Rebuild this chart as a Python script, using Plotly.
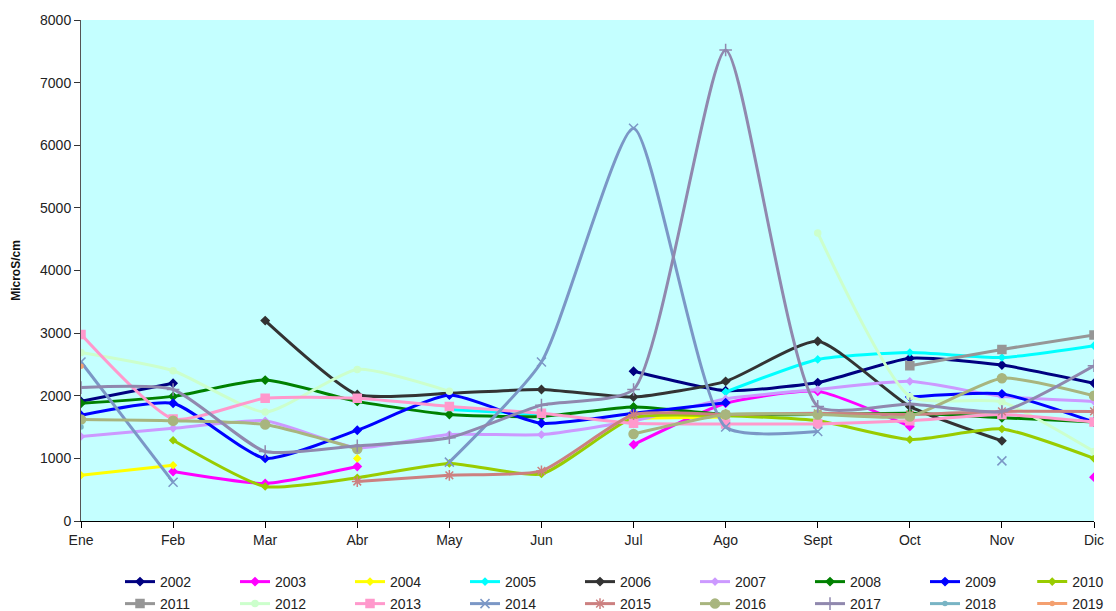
import plotly.graph_objects as go

months = ["Ene", "Feb", "Mar", "Abr", "May", "Jun", "Jul", "Ago", "Sept", "Oct", "Nov", "Dic"]
N = None

y2002 = [1910, 2200, N, N, N, N, 2390, 2080, 2210, 2600, 2490, 2200]
y2003 = [N, 790, 600, 870, N, N, 1220, 1880, 2070, 1510, N, 700]
y2004 = [730, 890, N, 1000, N, N, 1640, 1660, N, N, N, N]
y2005 = [N, N, N, N, 1780, 1700, N, 2060, 2580, 2690, 2610, 2800]
y2006 = [N, N, 3200, 2020, 2040, 2100, 1980, 2230, 2870, 1830, 1280, N]
y2007 = [1350, 1480, 1600, 1170, 1380, 1380, 1600, 1950, 2100, 2230, 1990, 1910]
y2008 = [1880, 1990, 2250, 1910, 1700, 1670, 1820, 1700, 1700, 1720, 1650, 1580]
y2009 = [1690, 1880, 1000, 1450, 2010, 1560, 1720, 1890, N, 1980, 2030, 1580]
y2010 = [N, 1290, 550, 690, 920, 750, 1650, 1680, 1600, 1300, 1470, 1000]
y2011 = [N, N, N, N, N, N, N, N, N, 2480, 2740, 2970]
y2012 = [2690, 2400, 1740, 2420, 2070, N, N, N, 4600, 1990, 1900, 1110]
y2013 = [2980, 1630, 1960, 1960, 1830, 1720, 1560, 1550, 1550, 1600, 1700, 1580]
y2014 = [2540, 620, N, N, 940, 2540, 6270, 1500, 1430, N, 960, N]
y2015 = [N, N, N, 630, 730, 800, 1700, 1700, 1720, 1700, 1750, 1750]
y2016 = [1620, 1600, 1540, 1150, N, N, 1390, 1700, 1700, 1670, 2280, 2000]
y2017 = [2130, 2100, 1110, 1200, 1330, 1850, 2100, 7520, 1830, 1870, 1750, 2480]
y2018 = [1500, N, N, N, N, N, N, N, N, N, N, N]
y2019 = [2470, N, N, N, N, N, N, N, N, N, N, N]

series = [
    ("2002", y2002, "#000080", "diamond", 6),
    ("2003", y2003, "#FF00FF", "diamond", 6),
    ("2004", y2004, "#FFFF00", "diamond", 5),
    ("2005", y2005, "#00FFFF", "diamond", 5),
    ("2006", y2006, "#333333", "diamond", 6),
    ("2007", y2007, "#CC99FF", "diamond", 5),
    ("2008", y2008, "#008000", "diamond", 6),
    ("2009", y2009, "#0000FF", "diamond", 6),
    ("2010", y2010, "#99CC00", "diamond", 5),
    ("2011", y2011, "#969696", "square", 8),
    ("2012", y2012, "#CCFFCC", "circle", 6),
    ("2013", y2013, "#FF99CC", "square", 8),
    ("2014", y2014, "#7B97C6", "x-thin-open", 9),
    ("2015", y2015, "#CC8080", "asterisk-open", 9),
    ("2016", y2016, "#A8B57E", "circle", 9),
    ("2017", y2017, "#9088AE", "cross-thin-open", 9),
    ("2018", y2018, "#78B4C4", "circle", 4),
    ("2019", y2019, "#F4A070", "circle", 4),
]

# legend routing: 9 entries per row; last entry of each row in its own legend
def legend_for(i):
    row, col = divmod(i, 9)
    if col < 8:
        return "legend" if row == 0 else "legend2"
    return "legend3" if row == 0 else "legend4"

x = list(range(len(months)))
fig = go.Figure()
for i, (name, vals, color, sym, size) in enumerate(series):
    fig.add_trace(go.Scatter(
        x=x, y=vals, name=name, mode="lines+markers",
        connectgaps=False,
        legend=legend_for(i),
        line=dict(color=color, width=3, shape="spline", smoothing=0.55),
        marker=dict(color=color, symbol=sym, size=size,
                    line=dict(color=color, width=1.5)),
    ))

legend_common = dict(
    orientation="h", xanchor="left", yanchor="middle",
    entrywidth=70, entrywidthmode="pixels", itemwidth=30,
    font=dict(family="Liberation Sans, Arial, sans-serif", size=14, color="#222222"),
    bgcolor="rgba(0,0,0,0)", borderwidth=0,
)
row_y = [-0.1218, -0.1657]
x_first = 0.0385
x_last = 0.9390

fig.update_layout(
    width=1108, height=603,
    margin=dict(l=73, r=22, t=12, b=90, autoexpand=False),
    paper_bgcolor="white",
    plot_bgcolor="#C4FFFF",
    font=dict(family="Liberation Sans, Arial, sans-serif", size=14, color="#222222"),
    showlegend=True,
    legend=dict(x=x_first, y=row_y[0], **legend_common),
    legend2=dict(x=x_first, y=row_y[1], **legend_common),
    legend3=dict(x=x_last, y=row_y[0], **legend_common),
    legend4=dict(x=x_last, y=row_y[1], **legend_common),
    xaxis=dict(
        range=[0, 11], tickvals=x, ticktext=months,
        showgrid=False, zeroline=False,
        showline=True, linecolor="#000000", linewidth=1,
        ticks="outside", ticklen=6, tickcolor="#000000",
        tickfont=dict(size=14, color="#222222"),
    ),
    yaxis=dict(
        range=[0, 8000], dtick=1000,
        showgrid=False, zeroline=False,
        showline=True, linecolor="#555555", linewidth=1,
        ticks="outside", ticklen=6, tickcolor="#333333",
        tickfont=dict(size=14, color="#222222"),
        title=dict(text="<b>MicroS/cm</b>", font=dict(size=12, color="#111111"), standoff=16),
    ),
)

fig.write_html("out.html")
